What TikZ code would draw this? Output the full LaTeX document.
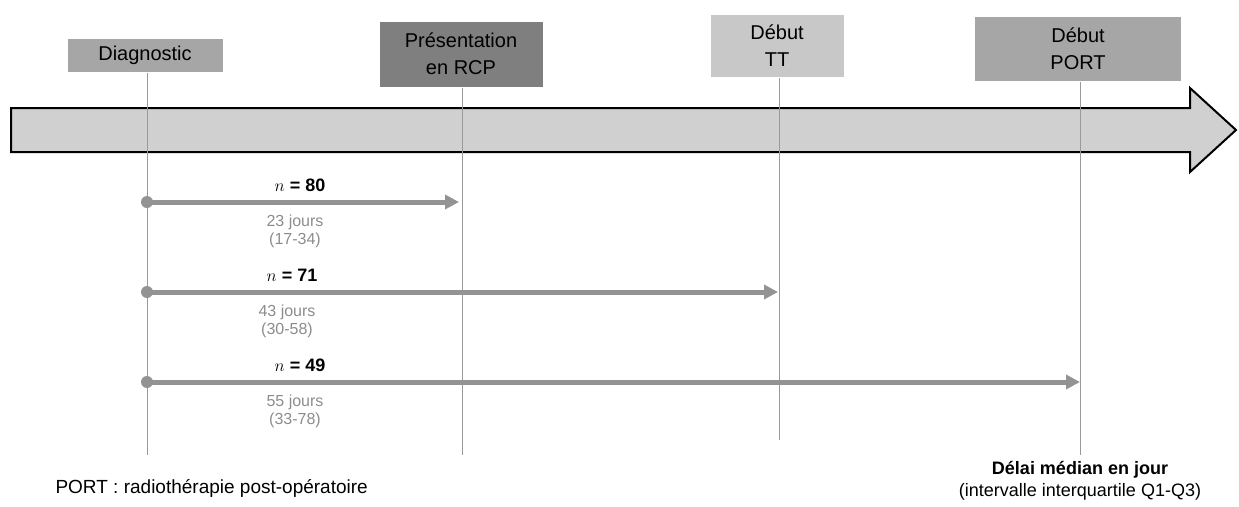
\documentclass[tikz,border=0pt]{standalone}
\usepackage{fontspec}
\setmainfont{Liberation Sans}
\usetikzlibrary{arrows.meta,positioning}

\definecolor{boxA}{HTML}{A6A6A6}
\definecolor{boxB}{HTML}{7F7F7F}
\definecolor{boxC}{HTML}{C8C8C8}
\definecolor{bandgray}{HTML}{D0D0D0}
\definecolor{delaygray}{HTML}{939393}
\definecolor{textgray}{HTML}{8C8C8C}

\tikzset{
  stepbox/.style={draw=white, line width=1pt, minimum height=34pt, align=center,
    inner sep=0pt, font=\fontsize{20}{27}\selectfont},
  mark line/.style={draw=gray!80, line width=1pt},
  delay/.style={draw=delaygray, line width=5pt,
    -{Triangle[length=14pt,width=14pt]}},
  countlbl/.style={font=\bfseries\fontsize{18}{20}\selectfont},
  medlbl/.style={text=textgray, align=center, font=\fontsize{16}{18}\selectfont},
}

\begin{document}
\begin{tikzpicture}[x=1pt,y=-1pt]
    \useasboundingbox (0,0) rectangle (1239,506);

    % time band
    \draw[line width=2pt, fill=bandgray]
    (11,108) -- (1190,108) -- (1190,88) -- (1236,130) -- (1190,172)
        -- (1190,152) -- (11,152) -- cycle;

    % milestones
    \node[stepbox, fill=boxA, minimum width=156pt] (diag) at (145,55) {Diagnostic};
    \node[stepbox, fill=boxB, minimum width=164pt, minimum height=66pt] (rcp) at (461,54)
        {Présentation\\en RCP};
    \node[stepbox, fill=boxC, minimum width=134pt, minimum height=63pt] (tt) at (777,46)
        {Début\\TT};
    \node[stepbox, fill=boxA, minimum width=207pt, minimum height=65pt] (port) at (1078,49)
        {Début\\PORT};

    \coordinate (diagEnd) at (147,455);
    \coordinate (rcpEnd) at (462,455);
    \coordinate (ttEnd) at (779,440);
    \coordinate (portEnd) at (1080,455);

    \draw[mark line] (diag.south -| diagEnd) -- (diagEnd);
    \draw[mark line] (rcp.south -| rcpEnd) -- (rcpEnd);
    \draw[mark line] (tt.south -| ttEnd) -- (ttEnd);
    \draw[mark line] (port.south -| portEnd) -- (portEnd);

    % delays
    \foreach \yy/\xe/\xl/\n/\med/\iq in {202/459/300/80/23/17-34, 292/778/292/71/43/30-58,
        382/1080/300/49/55/33-78}{
      \coordinate (s) at (147,\yy);
      \coordinate (e) at (\xe,\yy);
      \fill[delaygray] (s) circle (6pt);
      \draw[delay] (s) -- (e);
      \node[countlbl] at (\xl,\yy-17) {$n$ = \n};
      \node[medlbl] at (\xl-5,\yy+29) {\med{} jours\\(\iq)};
    }

    % legend
    \node[font=\fontsize{19}{21}\selectfont, anchor=west] (legend) at (52,488)
        {PORT : radiothérapie post-opératoire};
    \node[font=\bfseries\fontsize{18}{20}\selectfont] (mediane) at (1080,470)
        {Délai médian en jour};
    \node[font=\fontsize{18}{20}\selectfont] (interv) at (1080,492)
        {(intervalle interquartile Q1-Q3)};
\end{tikzpicture}
\end{document}
